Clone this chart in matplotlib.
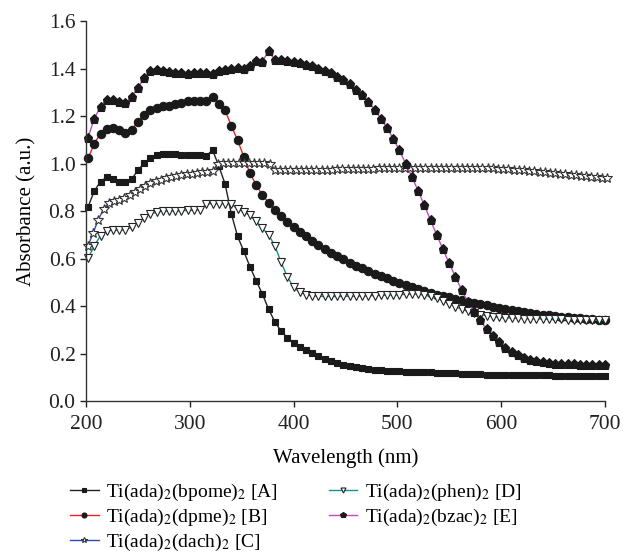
import numpy as np
import matplotlib
matplotlib.use("Agg")
import matplotlib.pyplot as plt

plt.rcParams['font.family'] = ['Liberation Serif', 'DejaVu Serif']
plt.rcParams['mathtext.fontset'] = 'stix'

# espectros UV-vis (absorbancia)
wl_a = np.arange(84) * 6 + 202
abs_a = [0.818, 0.885, 0.925, 0.943, 0.935, 0.925, 0.922, 0.935, 0.972, 1.003,
         1.022, 1.038, 1.040, 1.040, 1.039, 1.038, 1.038, 1.037, 1.036, 1.034,
         1.057, 0.990, 0.915, 0.790, 0.695, 0.632, 0.566, 0.507, 0.451, 0.387,
         0.334, 0.295, 0.267, 0.247, 0.230, 0.216, 0.202, 0.189, 0.178, 0.169,
         0.161, 0.154, 0.148, 0.143, 0.139, 0.135, 0.132, 0.130, 0.128, 0.127,
         0.126, 0.125, 0.124, 0.123, 0.122, 0.121, 0.120, 0.119, 0.118, 0.117,
         0.116, 0.115, 0.114, 0.113, 0.112, 0.112, 0.111, 0.111, 0.110, 0.110,
         0.110, 0.109, 0.109, 0.109, 0.109, 0.108, 0.108, 0.108, 0.108, 0.108,
         0.108, 0.108, 0.108, 0.108]

wl_b = np.arange(84) * 6 + 202
abs_b = [1.022, 1.085, 1.127, 1.148, 1.151, 1.141, 1.130, 1.144, 1.176, 1.204,
         1.225, 1.235, 1.242, 1.245, 1.250, 1.256, 1.262, 1.263, 1.266, 1.264,
         1.281, 1.250, 1.225, 1.160, 1.100, 1.030, 0.960, 0.910, 0.868, 0.835,
         0.806, 0.779, 0.756, 0.734, 0.713, 0.694, 0.676, 0.658, 0.642, 0.626,
         0.611, 0.597, 0.584, 0.571, 0.559, 0.548, 0.537, 0.527, 0.517, 0.507,
         0.497, 0.488, 0.479, 0.471, 0.463, 0.456, 0.449, 0.443, 0.437, 0.431,
         0.425, 0.419, 0.414, 0.408, 0.403, 0.398, 0.393, 0.388, 0.384, 0.379,
         0.375, 0.371, 0.367, 0.364, 0.361, 0.358, 0.355, 0.353, 0.351, 0.349,
         0.347, 0.345, 0.344, 0.342]

wl_c = np.arange(101) * 5 + 202
abs_c = [0.655, 0.710, 0.765, 0.810, 0.835, 0.843, 0.849, 0.856, 0.868, 0.882,
         0.895, 0.907, 0.918, 0.926, 0.932, 0.938, 0.943, 0.947, 0.951, 0.955,
         0.958, 0.961, 0.964, 0.967, 0.970, 1.000, 1.003, 1.005, 1.005, 1.005,
         1.004, 1.004, 1.004, 1.005, 1.005, 1.000, 0.972, 0.972, 0.973, 0.973,
         0.973, 0.973, 0.974, 0.974, 0.974, 0.975, 0.975, 0.975, 0.976, 0.976,
         0.977, 0.977, 0.978, 0.978, 0.979, 0.979, 0.980, 0.980, 0.981, 0.981,
         0.982, 0.982, 0.982, 0.983, 0.983, 0.983, 0.983, 0.984, 0.984, 0.984,
         0.984, 0.984, 0.984, 0.984, 0.983, 0.983, 0.982, 0.981, 0.980, 0.979,
         0.978, 0.976, 0.975, 0.973, 0.972, 0.970, 0.968, 0.966, 0.964, 0.962,
         0.960, 0.958, 0.956, 0.954, 0.952, 0.950, 0.948, 0.946, 0.944, 0.941,
         0.938]

wl_d = np.arange(84) * 6 + 202
abs_d = [0.601, 0.655, 0.697, 0.718, 0.720, 0.720, 0.722, 0.732, 0.752, 0.772,
         0.788, 0.796, 0.800, 0.801, 0.801, 0.802, 0.803, 0.804, 0.806, 0.830,
         0.832, 0.832, 0.832, 0.829, 0.810, 0.797, 0.782, 0.758, 0.728, 0.700,
         0.655, 0.585, 0.524, 0.480, 0.459, 0.449, 0.444, 0.442, 0.441, 0.441,
         0.441, 0.441, 0.442, 0.442, 0.443, 0.444, 0.445, 0.446, 0.447, 0.448,
         0.449, 0.450, 0.451, 0.452, 0.448, 0.441, 0.433, 0.422, 0.410, 0.398,
         0.387, 0.378, 0.371, 0.365, 0.360, 0.356, 0.353, 0.351, 0.350, 0.349,
         0.348, 0.347, 0.347, 0.346, 0.346, 0.345, 0.345, 0.344, 0.344, 0.343,
         0.343, 0.342, 0.341, 0.340]

wl_e = np.arange(84) * 6 + 202
abs_e = [1.110, 1.190, 1.240, 1.270, 1.270, 1.260, 1.255, 1.280, 1.320, 1.360,
         1.390, 1.395, 1.390, 1.385, 1.380, 1.380, 1.378, 1.380, 1.380, 1.383,
         1.378, 1.390, 1.395, 1.397, 1.405, 1.400, 1.410, 1.433, 1.430, 1.475,
         1.436, 1.436, 1.433, 1.427, 1.423, 1.417, 1.410, 1.400, 1.390, 1.380,
         1.366, 1.352, 1.335, 1.312, 1.288, 1.260, 1.228, 1.190, 1.151, 1.106,
         1.056, 1.000, 0.945, 0.886, 0.825, 0.762, 0.700, 0.639, 0.580, 0.523,
         0.468, 0.416, 0.375, 0.340, 0.302, 0.274, 0.250, 0.226, 0.208, 0.194,
         0.184, 0.175, 0.168, 0.164, 0.161, 0.158, 0.157, 0.156, 0.155, 0.154,
         0.153, 0.153, 0.152, 0.152]

etiquetas = ['Ti(ada)$_2$(bpome)$_2$ [A]', 'Ti(ada)$_2$(dpme)$_2$ [B]',
             'Ti(ada)$_2$(dach)$_2$ [C]', 'Ti(ada)$_2$(phen)$_2$ [D]',
             'Ti(ada)$_2$(bzac)$_2$ [E]']

fig = plt.figure(figsize=(6.23, 5.58), dpi=100)
ax = fig.add_axes([0.138, 0.281, 0.833, 0.681])

estilo = dict(linewidth=1.0, markeredgewidth=0.8, clip_on=False)
ax.plot(wl_a, abs_a, color='#222222', marker='s', markersize=5,
        markerfacecolor='#1a1a1a', markeredgecolor='#1a1a1a', label=etiquetas[0], **estilo)
ax.plot(wl_b, abs_b, color='#ee2222', marker='o', markersize=6,
        markerfacecolor='#1a1a1a', markeredgecolor='#1a1a1a', label=etiquetas[1], **estilo)
ax.plot(wl_c, abs_c, color='#2a4fb0', marker='*', markersize=7,
        markerfacecolor='white', markeredgecolor='#333333', label=etiquetas[2], **estilo)
ax.plot(wl_d, abs_d, color='#10958f', marker='v', markersize=6,
        markerfacecolor='white', markeredgecolor='#222222', label=etiquetas[3], **estilo)
ax.plot(wl_e, abs_e, color='#c04cc0', marker='p', markersize=6.5,
        markerfacecolor='#1a1a1a', markeredgecolor='#1a1a1a', label=etiquetas[4], **estilo)

ax.set_xlim(200, 700)
ax.set_ylim(0, 1.6)
ax.set_xticks(np.arange(200, 701, 100))
ax.set_yticks(np.arange(0, 1.61, 0.2))
ax.yaxis.set_major_formatter(matplotlib.ticker.FormatStrFormatter('%.1f'))
ax.tick_params(direction='out', length=4, width=1, labelsize=15.5, colors='#222222')
ax.tick_params(axis='x', pad=6)
for s in ['top', 'right']:
    ax.spines[s].set_visible(False)
for s in ['left', 'bottom']:
    ax.spines[s].set_color('#333333')
    ax.spines[s].set_linewidth(1.0)

ax.set_xlabel('Wavelength (nm)', fontsize=15, labelpad=10)
ax.set_ylabel('Absorbance (a.u.)', fontsize=15, labelpad=9)

fig.legend(loc='upper left', bbox_to_anchor=(0.113, 0.136), ncol=2,
           frameon=False, fontsize=14, handlelength=1.45, handletextpad=0.4,
           columnspacing=2.6, labelspacing=0.2, markerscale=0.6,
           borderaxespad=0, borderpad=0)

fig.savefig('out.png', dpi=100)
